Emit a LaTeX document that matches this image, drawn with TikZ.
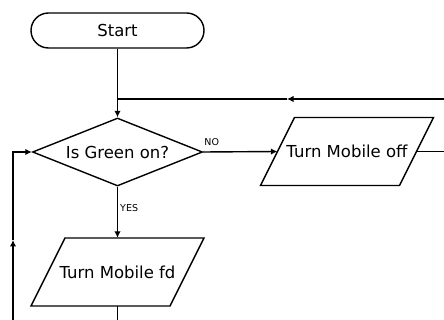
\documentclass[tikz,border=0pt]{standalone}
\usepackage{fontspec}
\setmainfont{DejaVu Sans}
\usetikzlibrary{shapes.geometric,shapes.misc,arrows.meta,calc}
\tikzset{
  line/.style={line width=1.4pt, draw=black},
  arr/.style={line, -{Latex[length=6.5pt,width=6.5pt]}},
  txt/.style={font=\fontsize{16.5}{19}\selectfont},
  lbl/.style={font=\fontsize{9.5}{11}\selectfont, inner sep=1pt},
  startbox/.style={rounded rectangle, line, txt, minimum width=173pt, minimum height=35pt, inner sep=0pt},
  decision/.style={diamond, line, txt, aspect=2.5, minimum width=170pt, minimum height=68pt, inner sep=0pt},
  iobox/.style={rectangle, draw=none, txt, minimum width=139pt, minimum height=68pt, inner sep=0pt},
}
\newcommand{\parabox}[1]{%
  \draw[line, line join=miter] ($(#1.center)+(-52.5,-34)$) -- ($(#1.center)+(86.5,-34)$)
    -- ($(#1.center)+(52.5,34)$) -- ($(#1.center)+(-86.5,34)$) -- cycle;}
\begin{document}
\begin{tikzpicture}[x=1pt,y=-1pt]
\useasboundingbox (0,0) rectangle (444,320);
\node[startbox] (start) at (117.5,30.5) {Start};
\node[decision] (dec) at (117.5,152) {Is Green on?};
\node[iobox] (off) at (347,151.5) {Turn Mobile off};
\node[iobox] (fd) at (117.5,272) {Turn Mobile fd};
\parabox{off}
\parabox{fd}
\coordinate (tR) at (444,99);
\coordinate (tM) at (287,99);
\coordinate (tJ) at (117.5,99);
\coordinate (oR) at (444,151.5);
\coordinate (fB) at (117.5,320);
\coordinate (lB) at (13,320);
\coordinate (lM) at (13,240);
\coordinate (lC) at (13,152);
\draw[arr] (start.south) -- (dec.north);
\draw[arr] (tR) -- (tM);
\draw[line] (tM) -- (tJ);
\draw[arr] (dec.east) -- (off.west);
\draw[line] (off.east) -- (oR);
\draw[arr] (dec.south) -- (fd.north);
\draw[line] (fd.south) -- (fB);
\draw[arr] (lB) -- (lM);
\draw[arr] (lM) -- (lC) -- (dec.west);
\node[lbl, anchor=south west] (no) at ($(dec.east)+(0,-5)$) {NO};
\node[lbl, anchor=west] (yes) at (119,208) {YES};
\end{tikzpicture}
\end{document}
